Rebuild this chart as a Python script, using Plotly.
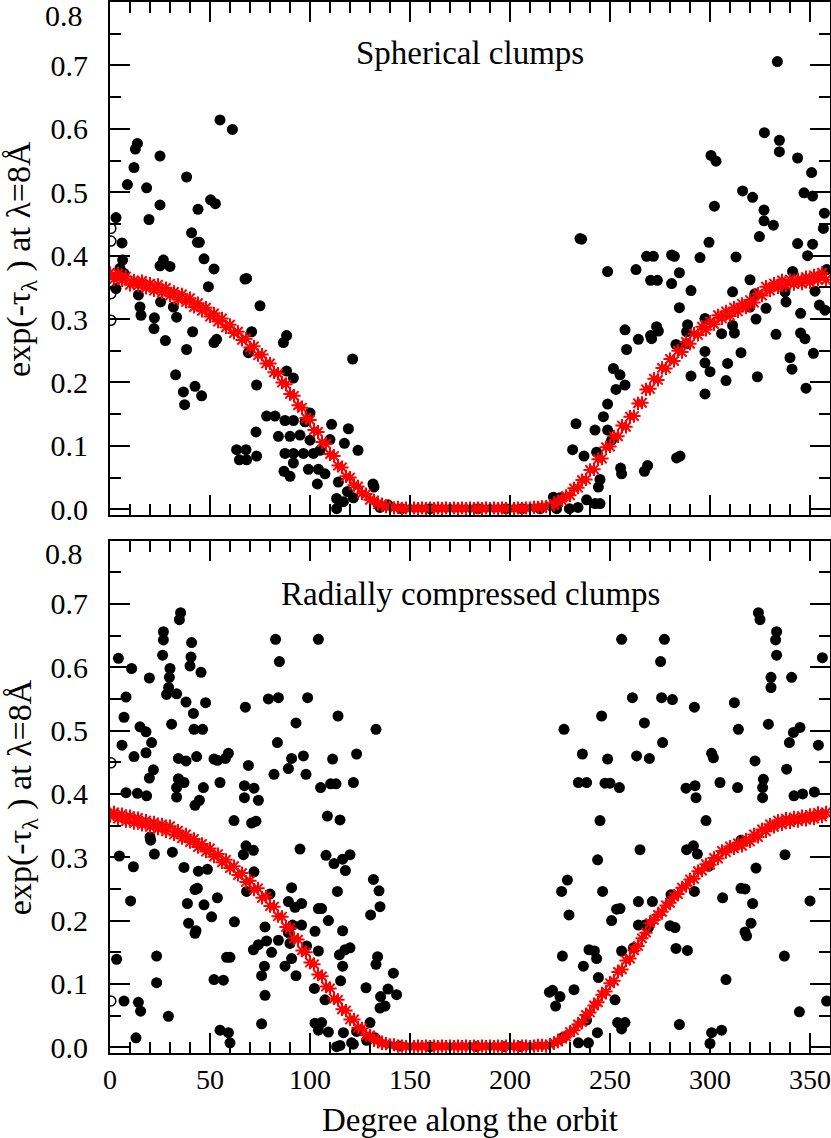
import plotly.graph_objects as go

# red model curve, sampled every 2 degrees (0..358)
red_deg = list(range(0, 360, 2))

top_red = [
    0.373, 0.363, 0.372, 0.361, 0.367, 0.354, 0.361, 0.353, 0.360, 0.349,
    0.356, 0.345, 0.354, 0.342, 0.349, 0.337, 0.343, 0.331, 0.339, 0.327,
    0.333, 0.319, 0.325, 0.313, 0.318, 0.304, 0.309, 0.296, 0.301, 0.287,
    0.291, 0.278, 0.280, 0.267, 0.269, 0.255, 0.257, 0.243, 0.244, 0.230,
    0.230, 0.216, 0.214, 0.200, 0.197, 0.182, 0.179, 0.164, 0.160, 0.144,
    0.141, 0.125, 0.122, 0.106, 0.103, 0.087, 0.084, 0.069, 0.066, 0.052,
    0.050, 0.038, 0.036, 0.025, 0.024, 0.015, 0.014, 0.008, 0.008, 0.004,
    0.004, 0.002, 0.003, 0.001, 0.002, 0.001, 0.002, 0.001, 0.002, 0.001,
    0.002, 0.001, 0.002, 0.001, 0.002, 0.001, 0.002, 0.001, 0.002, 0.001,
    0.002, 0.001, 0.002, 0.001, 0.002, 0.001, 0.002, 0.001, 0.002, 0.001,
    0.002, 0.001, 0.002, 0.001, 0.002, 0.002, 0.003, 0.003, 0.004, 0.004,
    0.006, 0.007, 0.013, 0.014, 0.021, 0.022, 0.033, 0.034, 0.046, 0.047,
    0.062, 0.063, 0.079, 0.080, 0.098, 0.099, 0.115, 0.115, 0.132, 0.130,
    0.146, 0.147, 0.167, 0.168, 0.189, 0.190, 0.206, 0.204, 0.223, 0.222,
    0.237, 0.234, 0.250, 0.248, 0.264, 0.261, 0.277, 0.275, 0.288, 0.283,
    0.296, 0.292, 0.306, 0.301, 0.312, 0.305, 0.318, 0.312, 0.324, 0.318,
    0.330, 0.326, 0.340, 0.337, 0.351, 0.345, 0.356, 0.350, 0.361, 0.353,
    0.362, 0.355, 0.363, 0.356, 0.366, 0.358, 0.369, 0.362, 0.373, 0.362,
]

bot_red = [
    0.365, 0.371, 0.361, 0.368, 0.357, 0.365, 0.354, 0.362, 0.351, 0.358,
    0.348, 0.355, 0.345, 0.352, 0.341, 0.349, 0.336, 0.342, 0.330, 0.336,
    0.324, 0.329, 0.316, 0.321, 0.309, 0.314, 0.301, 0.305, 0.292, 0.296,
    0.283, 0.286, 0.272, 0.275, 0.261, 0.263, 0.249, 0.251, 0.236, 0.238,
    0.223, 0.222, 0.207, 0.206, 0.190, 0.188, 0.172, 0.170, 0.153, 0.150,
    0.134, 0.131, 0.115, 0.112, 0.096, 0.093, 0.077, 0.075, 0.060, 0.058,
    0.044, 0.044, 0.031, 0.030, 0.019, 0.019, 0.011, 0.011, 0.006, 0.006,
    0.003, 0.004, 0.002, 0.002, 0.001, 0.002, 0.001, 0.002, 0.001, 0.002,
    0.001, 0.002, 0.001, 0.002, 0.001, 0.002, 0.001, 0.002, 0.001, 0.002,
    0.001, 0.002, 0.001, 0.002, 0.001, 0.002, 0.001, 0.002, 0.001, 0.002,
    0.001, 0.002, 0.001, 0.002, 0.002, 0.001, 0.002, 0.003, 0.003, 0.002,
    0.004, 0.007, 0.009, 0.014, 0.017, 0.024, 0.027, 0.036, 0.040, 0.051,
    0.055, 0.066, 0.071, 0.083, 0.088, 0.101, 0.105, 0.119, 0.123, 0.137,
    0.140, 0.153, 0.160, 0.172, 0.181, 0.196, 0.201, 0.209, 0.214, 0.224,
    0.228, 0.238, 0.242, 0.252, 0.255, 0.265, 0.266, 0.278, 0.279, 0.289,
    0.288, 0.299, 0.298, 0.310, 0.308, 0.317, 0.314, 0.322, 0.318, 0.328,
    0.325, 0.336, 0.332, 0.344, 0.341, 0.352, 0.348, 0.358, 0.352, 0.361,
    0.355, 0.363, 0.357, 0.365, 0.359, 0.367, 0.361, 0.370, 0.364, 0.371,
]

# black points, spherical clumps
top_deg = [
    55.0, 61.2, 13.7, 12.7, 25.0, 12.0, 38.3, 8.7, 18.3, 25.0,
    50.3, 52.7, 44.0, 3.0, 19.5, 40.8, 6.0, 43.7, 44.7, 47.0,
    6.3, 26.7, 25.0, 30.0, 52.0, 68.3, 67.5, 49.2, 14.2, 25.3,
    75.0, 15.0, 31.7, 15.5, 33.3, 22.2, 22.0, 41.3, 70.8, 88.3,
    27.7, 53.3, 52.0, 86.7, 38.3, 69.2, 121.3, 88.3, 91.7, 32.8,
    73.3, 42.5, 36.7, 45.8, 37.3, 100.0, 78.3, 82.5, 87.5, 91.7,
    110.8, 119.2, 73.0, 84.2, 90.0, 95.0, 100.0, 110.0, 117.2, 124.0,
    63.3, 68.0, 64.7, 68.3, 73.3, 87.5, 91.7, 96.7, 101.7, 105.0,
    91.7, 87.0, 90.0, 99.2, 104.2, 107.5, 103.7, 114.2, 113.3, 113.3,
    116.7, 118.7, 121.7, 97.5, 3.0, 5.0, 7.0, 131.5, 132.0, 139.0,
    135.0, 145.8, 160.0, 184.0, 198.0, 206.0, 215.0,
    333.7, 327.2, 334.7, 334.7, 300.5, 303.0, 343.8, 350.8, 302.2, 316.3,
    321.3, 347.0, 351.3, 327.0, 327.0, 331.7, 357.2, 356.7, 324.7, 235.0,
    235.8, 299.5, 343.8, 351.3, 268.3, 271.7, 280.8, 282.2, 295.0, 313.0,
    348.8, 248.8, 263.0, 284.7, 341.3, 358.3, 270.3, 273.7, 280.8, 320.0,
    290.5, 311.3, 352.5, 322.5, 337.5, 338.0, 284.7, 328.0, 320.0, 354.7,
    357.5, 345.3, 297.5, 323.0, 257.5, 273.3, 288.8, 311.3, 274.2, 270.3,
    288.3, 305.8, 312.2, 333.0, 345.3, 264.2, 270.8, 347.5, 283.0, 288.3,
    258.3, 297.5, 315.5, 351.7, 340.0, 297.5, 308.8, 341.0, 300.0, 290.5,
    323.7, 308.0, 251.7, 255.0, 257.5, 253.0, 297.5, 348.0, 248.8, 246.7,
    233.0, 242.5, 248.8, 250.8, 231.3, 243.3, 237.0, 283.3, 285.0, 255.3,
    255.8, 268.8, 267.2, 245.0, 244.2, 221.7, 225.0, 238.3, 242.5, 245.0,
    234.0, 229.7, 223.3,
]
top_val = [
    0.614, 0.599, 0.577, 0.568, 0.557, 0.539, 0.524, 0.512, 0.507, 0.480,
    0.488, 0.482, 0.473, 0.460, 0.457, 0.436, 0.420, 0.421, 0.421, 0.395,
    0.393, 0.393, 0.384, 0.383, 0.379, 0.364, 0.363, 0.351, 0.338, 0.327,
    0.321, 0.319, 0.319, 0.306, 0.303, 0.302, 0.285, 0.280, 0.280, 0.274,
    0.266, 0.268, 0.263, 0.263, 0.252, 0.247, 0.237, 0.218, 0.207, 0.212,
    0.196, 0.194, 0.185, 0.179, 0.165, 0.152, 0.147, 0.147, 0.140, 0.140,
    0.134, 0.127, 0.122, 0.115, 0.115, 0.117, 0.109, 0.110, 0.104, 0.093,
    0.094, 0.094, 0.078, 0.078, 0.084, 0.088, 0.088, 0.088, 0.088, 0.093,
    0.073, 0.060, 0.052, 0.063, 0.063, 0.056, 0.040, 0.043, 0.017, 0.001,
    0.012, 0.028, 0.018, 0.138, 0.348, 0.380, 0.372, 0.040, 0.035, 0.007,
    0.003, 0.001, 0.001, 0.001, 0.001, 0.001, 0.001,
    0.706, 0.594, 0.582, 0.564, 0.558, 0.549, 0.554, 0.531, 0.478, 0.502,
    0.492, 0.499, 0.494, 0.472, 0.455, 0.448, 0.467, 0.443, 0.430, 0.427,
    0.426, 0.421, 0.419, 0.418, 0.399, 0.399, 0.401, 0.399, 0.397, 0.398,
    0.400, 0.375, 0.378, 0.373, 0.375, 0.378, 0.361, 0.361, 0.356, 0.362,
    0.345, 0.343, 0.344, 0.340, 0.343, 0.327, 0.318, 0.317, 0.319, 0.322,
    0.314, 0.309, 0.301, 0.300, 0.283, 0.288, 0.291, 0.290, 0.281, 0.274,
    0.280, 0.277, 0.278, 0.276, 0.278, 0.268, 0.269, 0.269, 0.260, 0.261,
    0.252, 0.249, 0.247, 0.246, 0.239, 0.231, 0.230, 0.221, 0.217, 0.210,
    0.209, 0.203, 0.222, 0.212, 0.196, 0.189, 0.182, 0.191, 0.166, 0.146,
    0.135, 0.125, 0.125, 0.109, 0.094, 0.090, 0.084, 0.081, 0.084, 0.065,
    0.056, 0.069, 0.060, 0.047, 0.035, 0.019, 0.018, 0.015, 0.009, 0.009,
    0.003, 0.001, 0.001,
]

# black points, radially compressed clumps
bot_deg = [
    35.3, 34.7, 26.7, 26.7, 40.8, 82.8, 104.2, 26.3, 40.5, 4.2,
    84.7, 40.0, 30.0, 10.8, 19.7, 29.7, 45.5, 29.3, 28.3, 33.3,
    8.0, 79.2, 84.2, 98.8, 38.0, 47.8, 67.7, 41.7, 7.0, 114.0,
    93.0, 30.8, 15.0, 18.0, 42.0, 46.3, 6.0, 20.8, 83.7, 12.0,
    18.0, 59.2, 57.7, 34.2, 38.0, 43.3, 52.0, 53.7, 96.7, 111.3,
    123.3, 69.2, 90.8, 89.2, 21.7, 82.0, 98.0, 19.7, 34.2, 37.0,
    55.0, 110.3, 113.0, 121.7, 33.3, 46.7, 67.2, 72.0, 105.3, 8.0,
    13.7, 18.3, 33.3, 67.2, 74.2, 44.7, 42.5, 108.7, 115.0, 62.0,
    70.8, 73.0, 20.0, 20.3, 22.2, 31.2, 4.7, 95.0, 68.0, 71.7,
    66.7, 108.0, 120.0, 116.3, 112.0, 11.7, 37.0, 48.7, 44.2, 72.0,
    117.7, 43.7, 42.5, 90.8, 68.3, 80.0, 113.7, 10.3, 53.7, 38.7,
    47.0, 89.2, 95.8, 92.5, 104.2, 105.8, 50.8, 62.2, 39.3, 109.2,
    42.5, 43.0, 77.5, 91.3, 95.8, 102.5, 116.3, 89.2, 84.2, 74.2,
    78.3, 71.7, 80.8, 90.0, 98.3, 104.2, 117.5, 120.0, 114.7, 3.3,
    23.3, 58.3, 60.0, 90.8, 77.2, 87.5, 116.3, 75.8, 93.0, 115.3,
    52.0, 56.7, 23.3, 102.2, 77.5, 107.5, 7.0, 14.2, 15.3, 29.2,
    75.8, 102.5, 105.8, 104.2, 109.2, 116.7, 55.0, 59.2, 60.0, 13.0,
    113.3, 115.0, 120.8,
    133.0, 131.7, 134.5, 130.3, 135.0, 133.8, 133.0, 141.7, 139.0, 143.3,
    135.3, 135.0, 137.5, 128.0, 130.0, 132.5, 128.3, 123.3, 121.7, 145.0,
    160.0, 183.0, 197.0, 205.0,
    324.2, 325.0, 333.3, 332.8, 333.3, 255.8, 277.2, 275.3, 356.2, 330.5,
    330.5, 340.8, 261.2, 275.8, 281.2, 292.2, 312.2, 245.8, 227.0, 267.2,
    314.2, 329.2, 341.7, 345.0, 276.3, 354.2, 339.7, 236.2, 248.8, 263.3,
    269.7, 300.8, 301.7, 322.5, 338.3, 234.2, 238.3, 247.5, 250.0, 254.7,
    288.0, 292.5, 293.0, 305.0, 313.8, 326.7, 326.3, 326.3, 342.0, 346.3,
    352.2, 245.0, 298.0, 265.0, 288.3, 291.7, 293.7, 315.5, 337.5, 243.8,
    323.0, 299.5, 228.7, 225.8, 246.3, 292.2, 280.5, 315.5, 317.5, 306.3,
    350.0, 264.2, 271.2, 321.3, 229.5, 255.0, 253.3, 250.8, 264.2, 267.5,
    269.2, 280.0, 282.5, 320.5, 317.5, 318.3, 226.2, 239.5, 242.2, 243.3,
    236.7, 255.8, 261.7, 283.0, 288.7, 337.2, 244.2, 308.0, 219.7, 221.3,
    232.0, 225.0, 222.8, 252.5, 358.3, 344.7, 253.8, 257.5, 255.8, 284.7,
    243.7, 300.8, 305.8, 300.0, 239.2, 234.2, 226.7, 238.3,
]
bot_val = [
    0.686, 0.675, 0.656, 0.643, 0.639, 0.644, 0.644, 0.619, 0.616, 0.614,
    0.609, 0.602, 0.598, 0.598, 0.583, 0.584, 0.592, 0.568, 0.557, 0.558,
    0.553, 0.550, 0.552, 0.552, 0.545, 0.544, 0.537, 0.527, 0.521, 0.523,
    0.512, 0.510, 0.506, 0.498, 0.502, 0.502, 0.477, 0.481, 0.481, 0.459,
    0.465, 0.464, 0.456, 0.456, 0.452, 0.459, 0.455, 0.453, 0.460, 0.455,
    0.463, 0.445, 0.456, 0.440, 0.438, 0.431, 0.431, 0.425, 0.424, 0.418,
    0.418, 0.416, 0.416, 0.418, 0.410, 0.410, 0.413, 0.409, 0.410, 0.402,
    0.401, 0.397, 0.395, 0.394, 0.390, 0.390, 0.382, 0.365, 0.359, 0.358,
    0.354, 0.357, 0.332, 0.327, 0.305, 0.308, 0.302, 0.313, 0.318, 0.311,
    0.304, 0.303, 0.304, 0.297, 0.290, 0.285, 0.284, 0.281, 0.278, 0.277,
    0.279, 0.251, 0.249, 0.252, 0.246, 0.242, 0.246, 0.231, 0.236, 0.227,
    0.225, 0.230, 0.227, 0.221, 0.219, 0.219, 0.206, 0.198, 0.196, 0.200,
    0.180, 0.184, 0.190, 0.193, 0.193, 0.183, 0.184, 0.181, 0.169, 0.162,
    0.168, 0.154, 0.150, 0.164, 0.160, 0.152, 0.154, 0.157, 0.146, 0.139,
    0.144, 0.142, 0.142, 0.140, 0.128, 0.128, 0.128, 0.113, 0.113, 0.105,
    0.107, 0.106, 0.102, 0.093, 0.082, 0.075, 0.073, 0.071, 0.057, 0.049,
    0.037, 0.038, 0.039, 0.027, 0.024, 0.023, 0.027, 0.023, 0.007, 0.015,
    0.001, 0.003, 0.007,
    0.502, 0.265, 0.247, 0.209, 0.222, 0.143, 0.131, 0.117, 0.092, 0.083,
    0.080, 0.062, 0.065, 0.094, 0.039, 0.015, 0.011, 0.025, 0.005, 0.002,
    0.001, 0.001, 0.001, 0.001,
    0.686, 0.675, 0.656, 0.643, 0.619, 0.644, 0.644, 0.609, 0.615, 0.584,
    0.568, 0.584, 0.552, 0.552, 0.549, 0.537, 0.544, 0.523, 0.502, 0.512,
    0.502, 0.510, 0.497, 0.505, 0.481, 0.477, 0.481, 0.463, 0.455, 0.460,
    0.456, 0.464, 0.457, 0.452, 0.439, 0.418, 0.418, 0.417, 0.417, 0.410,
    0.409, 0.413, 0.394, 0.418, 0.410, 0.423, 0.410, 0.394, 0.397, 0.400,
    0.403, 0.358, 0.358, 0.312, 0.312, 0.318, 0.305, 0.327, 0.304, 0.296,
    0.283, 0.286, 0.264, 0.246, 0.246, 0.246, 0.241, 0.251, 0.250, 0.236,
    0.231, 0.230, 0.230, 0.227, 0.209, 0.219, 0.218, 0.200, 0.193, 0.193,
    0.189, 0.192, 0.189, 0.196, 0.182, 0.176, 0.144, 0.154, 0.152, 0.140,
    0.128, 0.152, 0.157, 0.156, 0.153, 0.144, 0.110, 0.107, 0.087, 0.090,
    0.091, 0.080, 0.065, 0.075, 0.073, 0.056, 0.039, 0.039, 0.029, 0.036,
    0.023, 0.023, 0.027, 0.006, 0.007, 0.007, 0.016, 0.043,
]

# open circles clipped at the left frame
top_open = [0.443, 0.423, 0.340, 0.298]
bot_open = [0.449, 0.073]

y_ticks = [0.0, 0.1, 0.2, 0.3, 0.4, 0.5, 0.6, 0.7, 0.8]
y_labels = ["0.0", "0.1", "0.2", "0.3", "0.4", "0.5", "0.6", "0.7", ""]
x_ticks = [0, 50, 100, 150, 200, 250, 300, 350]

FONT = "Liberation Serif"
YTITLE = "exp(-τ<sub>λ</sub> ) at λ=8Å"

fig = go.Figure()

panels = [
    ("x2", "y2", top_deg, top_val, top_red, top_open),
    ("x", "y", bot_deg, bot_val, bot_red, bot_open),
]
for xa, ya, dx, dy, red, opn in panels:
    fig.add_trace(go.Scatter(x=dx, y=dy, mode="markers", xaxis=xa, yaxis=ya,
                             marker=dict(symbol="circle", size=11, color="black"),
                             showlegend=False))
    fig.add_trace(go.Scatter(x=[0.4] * len(opn), y=opn, mode="markers", xaxis=xa, yaxis=ya,
                             marker=dict(symbol="circle-open", size=10, color="black",
                                         line=dict(width=1.5)),
                             showlegend=False))
    fig.add_trace(go.Scatter(x=red_deg, y=red, mode="markers", xaxis=xa, yaxis=ya,
                             marker=dict(symbol="asterisk-open", size=11, color="red",
                                         line=dict(width=2, color="red")),
                             showlegend=False))

axis_common = dict(showline=True, linewidth=2, linecolor="black", mirror="allticks",
                   ticks="inside", tickwidth=1.5, tickcolor="black", showgrid=False,
                   zeroline=False, automargin=False)

xcommon = dict(axis_common, range=[0, 360], tickvals=x_ticks, ticklen=20,
               tickfont=dict(family=FONT, size=28, color="black"),
               minor=dict(dtick=10, ticklen=11, ticks="inside", tickwidth=1.5,
                          tickcolor="black", showgrid=False))
ycommon = dict(axis_common, range=[-0.009, 0.8], tickvals=y_ticks, ticktext=y_labels,
               ticklen=20, ticklabelstandoff=14,
               tickfont=dict(family=FONT, size=30, color="black"),
               minor=dict(dtick=0.05, ticklen=11, ticks="inside", tickwidth=1.5,
                          tickcolor="black", showgrid=False))

fig.update_layout(
    width=831, height=1138,
    margin=dict(l=110, r=1, t=2, b=85),
    paper_bgcolor="white", plot_bgcolor="white",
    font=dict(family=FONT, size=28, color="black"),
    xaxis=dict(xcommon, anchor="y", domain=[0, 1],
               title=dict(text="Degree along the orbit", standoff=14,
                          font=dict(family=FONT, size=33, color="black"))),
    yaxis=dict(ycommon, anchor="x", domain=[0, 0.4876]),
    xaxis2=dict(xcommon, anchor="y2", domain=[0, 1], showticklabels=False),
    yaxis2=dict(ycommon, anchor="x2", domain=[0.5119, 1]),
)

# y titles, panel labels and the top tick label of each panel
for ya in ["y2", "y"]:
    fig.add_annotation(text=YTITLE, xref="paper", yref=ya + " domain", x=-0.123, y=0.5,
                       textangle=-90, xanchor="center", yanchor="middle", showarrow=False,
                       font=dict(family=FONT, size=34, color="black"))
    fig.add_annotation(text="0.8", xref="paper", yref=ya, x=-0.035, y=0.8, yshift=-13,
                       xanchor="right", showarrow=False,
                       font=dict(family=FONT, size=30, color="black"))
fig.add_annotation(text="Spherical clumps", xref="x2", yref="y2", x=180, y=0.72,
                   showarrow=False, font=dict(family=FONT, size=33, color="black"))
fig.add_annotation(text="Radially compressed clumps", xref="x", yref="y", x=180, y=0.715,
                   showarrow=False, font=dict(family=FONT, size=33, color="black"))

# page body has an 8px default margin; drop it so the figure sits at the corner
fig.write_html("out.html", config={"displayModeBar": False},
               post_script="document.body.style.margin='0';")
